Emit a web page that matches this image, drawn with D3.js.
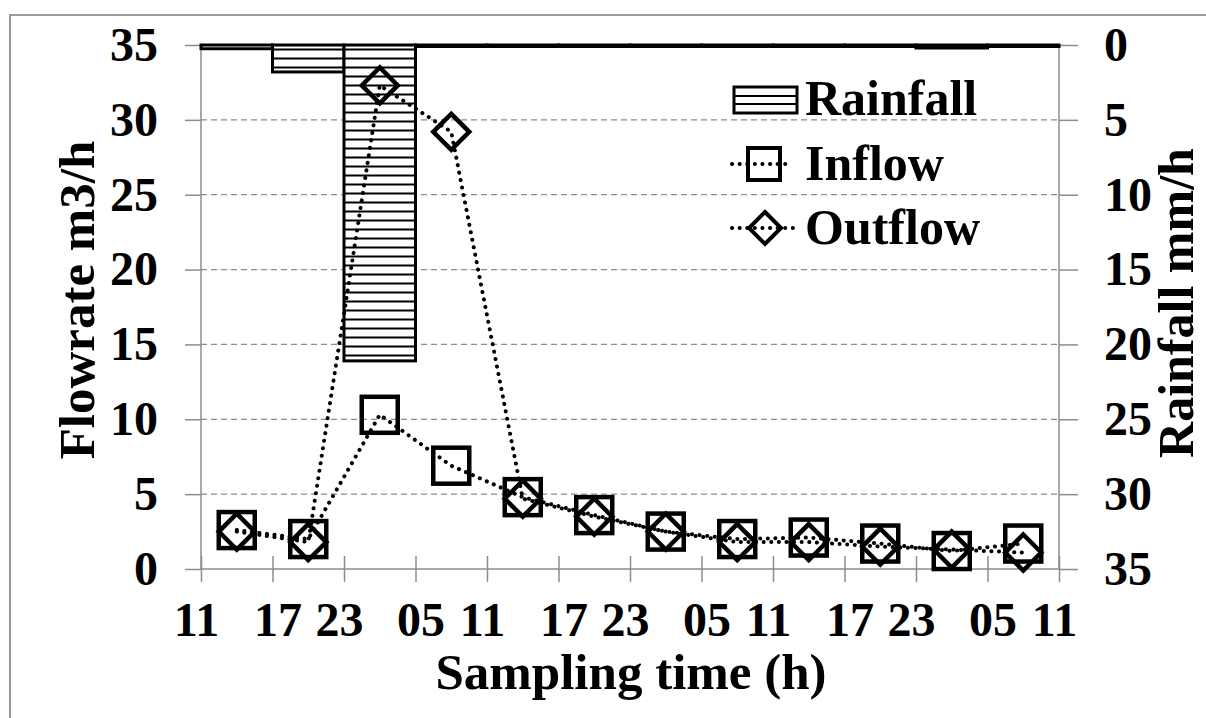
<!DOCTYPE html>
<html><head><meta charset="utf-8">
<script src="https://cdn.jsdelivr.net/npm/d3@7"></script>
<style>
html,body{margin:0;padding:0;background:#fff;}
svg{display:block;font-family:"Liberation Serif","Times New Roman",serif;font-weight:bold;}
</style></head>
<body>
<svg id="chart" width="1206" height="718"></svg>
<script>
// ---- data ----
const timeTickLabels = ["11","17","23","05","11","17","23","05","11","17","23","05","11"];
const sampleHours = [3,9,15,21,27,33,39,45,51,57,63,69];          // hours from first tick
const inflow  = [2.6, 2.0, 10.3, 6.9, 4.8, 3.6, 2.5, 2.0, 2.1, 1.7, 1.2, 1.7];
const outflow = [2.5, 1.8, 32.3, 29.2, 4.7, 3.5, 2.5, 1.8, 1.8, 1.5, 1.3, 1.1];
const rainStart = [0,6,12,18,24,30,36,42,48,54,60,66];
const rainfall  = [0.25, 1.8, 21.1, 0.1, 0.1, 0.1, 0.1, 0.1, 0.1, 0.1, 0.2, 0.1];
const leftTicks = [0,5,10,15,20,25,30,35];
const rightTicks = [0,5,10,15,20,25,30,35];

const svg = d3.select("#chart");
const L = 201, R = 1059, T = 45, B = 569;

const x = d3.scaleLinear().domain([0,72]).range([L,R]);
const y = d3.scaleLinear().domain([0,35]).range([B,T]);
const yR = d3.scaleLinear().domain([0,35]).range([T,B]);

// outer frame
svg.append("rect").attr("x",10).attr("y",15).attr("width",1220).attr("height",740)
  .attr("fill","none").attr("stroke","#9a9a9a").attr("stroke-width",2);

// hatch pattern
const defs = svg.append("defs");
const pat = defs.append("pattern").attr("id","hatch").attr("patternUnits","userSpaceOnUse")
  .attr("width",10).attr("height",9);
pat.append("rect").attr("width",10).attr("height",9).attr("fill","#fff");
pat.append("line").attr("x1",0).attr("x2",10).attr("y1",4.5).attr("y2",4.5)
  .attr("stroke","#000").attr("stroke-width",2);

// gridlines
svg.append("g").selectAll("line").data(leftTicks.filter(d=>d>0 && d<35)).join("line")
  .attr("x1",L).attr("x2",R).attr("y1",d=>y(d)).attr("y2",d=>y(d))
  .attr("stroke","#8c8c8c").attr("stroke-width",1.2).attr("stroke-dasharray","6,4");

// left axis
const gl = svg.append("g").attr("transform",`translate(${L},0)`)
  .call(d3.axisLeft(y).tickValues(leftTicks).tickSize(16).tickPadding(27));
// right axis
const gr = svg.append("g").attr("transform",`translate(${R},0)`)
  .call(d3.axisRight(yR).tickValues(rightTicks).tickSize(19).tickPadding(26));
// bottom axis
const gb = svg.append("g").attr("transform",`translate(0,${B})`)
  .call(d3.axisBottom(x).tickValues(d3.range(0,73,6)).tickSize(13).tickPadding(20)
    .tickFormat((d,i)=>timeTickLabels[i]));
gb.selectAll(".tick line").attr("y1",-13);
gb.selectAll(".tick text").attr("dx",(d,i)=> i%2===0 ? -5 : 5);

[gl,gr,gb].forEach(g=>{
  g.select(".domain").attr("stroke","#8c8c8c").attr("stroke-width",1.5);
  g.selectAll(".tick line").attr("stroke","#8c8c8c").attr("stroke-width",1.5);
  g.selectAll(".tick text").attr("fill","#000").attr("font-size",48)
    .attr("font-family","Liberation Serif, serif").attr("font-weight","bold");
});
gl.select(".domain").attr("d",`M0,${T}V${B}`);
gr.select(".domain").attr("d",`M0,${T}V${B}`);
gb.select(".domain").attr("d",`M${L},0H${R}`);

// rainfall bars (hanging from top)
svg.append("g").selectAll("rect").data(rainfall).join("rect")
  .attr("x",(d,i)=>x(rainStart[i])).attr("width",(d,i)=>x(rainStart[i]+6)-x(rainStart[i]))
  .attr("y",T).attr("height",d=>yR(d)-T)
  .attr("fill","url(#hatch)").attr("stroke","#000").attr("stroke-width",3);

// lines
const line = d3.line().x((d,i)=>x(sampleHours[i])).y(d=>y(d));
function dotted(data){
  svg.append("path").datum(data).attr("d",line).attr("fill","none")
    .attr("stroke","#000").attr("stroke-width",4).attr("stroke-linecap","round")
    .attr("stroke-dasharray","0.1,7.5");
}
dotted(inflow);
dotted(outflow);

// markers
const sq = 36;
svg.append("g").selectAll("rect").data(inflow).join("rect")
  .attr("x",(d,i)=>x(sampleHours[i])-sq/2).attr("y",d=>y(d)-sq/2)
  .attr("width",sq).attr("height",sq).attr("fill","none")
  .attr("stroke","#000").attr("stroke-width",4.5);
const dm = 18;
svg.append("g").selectAll("path").data(outflow).join("path")
  .attr("d",(d,i)=>{const cx=x(sampleHours[i]), cy=y(d);
    return `M${cx},${cy-dm}L${cx+dm},${cy}L${cx},${cy+dm}L${cx-dm},${cy}Z`;})
  .attr("fill","none").attr("stroke","#000").attr("stroke-width",4.5);

// legend
const lg = svg.append("g");
lg.append("rect").attr("x",734).attr("y",87).attr("width",63).attr("height",26)
  .attr("fill","#fff").attr("stroke","#000").attr("stroke-width",3);
[96,104].forEach(v=>lg.append("line").attr("x1",734).attr("x2",797).attr("y1",v).attr("y2",v)
  .attr("stroke","#000").attr("stroke-width",2));
lg.append("text").attr("x",805).attr("y",115).attr("font-size",50).text("Rainfall");
lg.append("line").attr("x1",732).attr("x2",790).attr("y1",164).attr("y2",164)
  .attr("stroke","#000").attr("stroke-width",4).attr("stroke-linecap","round").attr("stroke-dasharray","0.1,7.5");
lg.append("rect").attr("x",748).attr("y",148).attr("width",32).attr("height",32)
  .attr("fill","none").attr("stroke","#000").attr("stroke-width",4);
lg.append("text").attr("x",805).attr("y",180).attr("font-size",50).text("Inflow");
lg.append("line").attr("x1",732).attr("x2",798).attr("y1",228).attr("y2",228)
  .attr("stroke","#000").attr("stroke-width",4).attr("stroke-linecap","round").attr("stroke-dasharray","0.1,7.5");
lg.append("path").attr("d","M765,212L781,228L765,244L749,228Z")
  .attr("fill","none").attr("stroke","#000").attr("stroke-width",4);
lg.append("text").attr("x",805).attr("y",244).attr("font-size",50).text("Outflow");

// axis titles
svg.append("text").attr("transform","translate(94,300) rotate(-90)")
  .attr("text-anchor","middle").attr("font-size",51).text("Flowrate m3/h");
svg.append("text").attr("transform","translate(1193,303) rotate(-90)")
  .attr("text-anchor","middle").attr("font-size",50).text("Rainfall mm/h");
svg.append("text").attr("x",631).attr("y",689)
  .attr("text-anchor","middle").attr("font-size",51).text("Sampling time (h)");
</script>
</body></html>
